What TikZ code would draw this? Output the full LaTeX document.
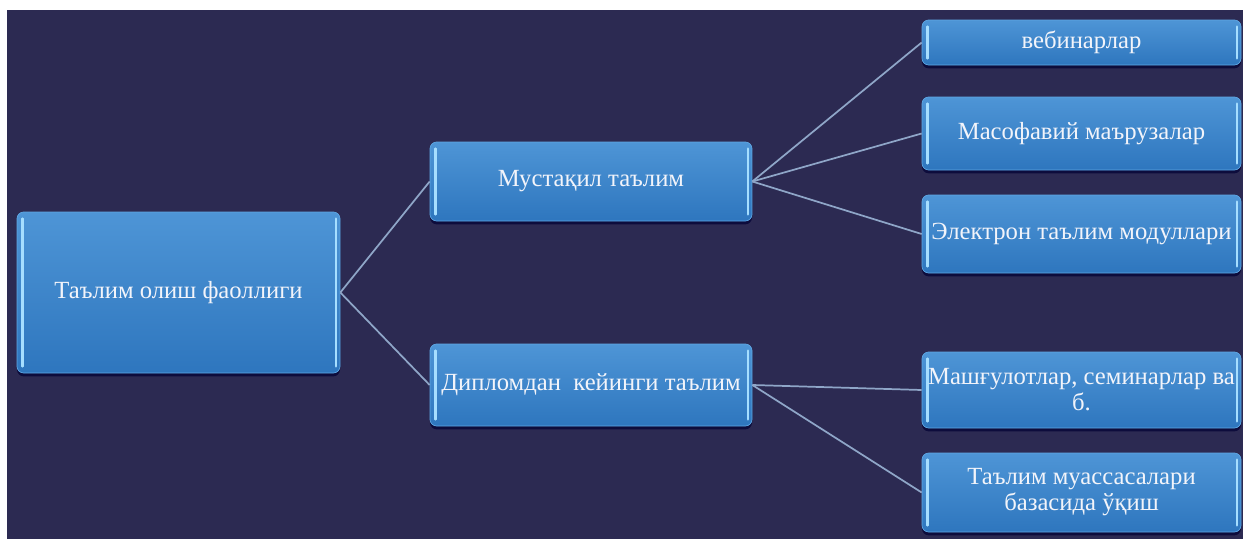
\documentclass[tikz,border=0pt]{standalone}
\usepackage{fontspec}
\setmainfont{Liberation Serif}
\usetikzlibrary{shadows}
\definecolor{bgdark}{HTML}{2C2A52}
\definecolor{boxtop}{HTML}{4E95D6}
\definecolor{boxbot}{HTML}{2E76BE}
\definecolor{boxedge}{HTML}{5FA8E4}
\definecolor{hilite}{HTML}{A6DEFF}
\definecolor{linkc}{HTML}{8FA6C8}
\definecolor{txtc}{HTML}{F2F4FA}
\tikzset{
  px/.style={x=0.75pt,y=-0.75pt},
  bluebox/.style={rectangle, rounded corners=5pt, top color=boxtop, bottom color=boxbot,
    draw=boxedge, line width=0.5pt, text=txtc, align=center, inner sep=1pt,
    font=\fontsize{18.5}{19.5}\selectfont,
    drop shadow={shadow xshift=0pt, shadow yshift=-2.5pt, opacity=0.7, fill=black!80!blue},
    path picture={
      \draw[hilite, line width=2pt, line cap=round]
        ([xshift=4pt,yshift=-5pt]path picture bounding box.north west) --
        ([xshift=4pt,yshift=5pt]path picture bounding box.south west);
      \draw[hilite, line width=2pt, line cap=round]
        ([xshift=-3pt,yshift=-5pt]path picture bounding box.north east) --
        ([xshift=-3pt,yshift=5pt]path picture bounding box.south east);
    }},
  link/.style={draw=linkc, line width=1.3pt}
}
\begin{document}
\begin{tikzpicture}[px]
\useasboundingbox (0,0) rectangle (1243,539);
\fill[white] (0,0) rectangle (1243,539);
\fill[bgdark] (7,10) rectangle (1243,539);
% level 0
\node[bluebox, minimum width=323*0.75pt, minimum height=161*0.75pt] (root) at (178.5,292.5) {Таълим олиш фаоллиги};
% level 1
\node[bluebox, minimum width=322*0.75pt, minimum height=79*0.75pt] (must) at (591,181.5) {Мустақил таълим};
\node[bluebox, minimum width=322*0.75pt, minimum height=82*0.75pt] (dipl) at (591,385) {Дипломдан\ \ кейинги таълим};
% level 2
\node[bluebox, minimum width=319*0.75pt, minimum height=45*0.75pt] (veb) at (1081.5,42.5) {вебинарлар};
\node[bluebox, minimum width=319*0.75pt, minimum height=73*0.75pt] (mas) at (1081.5,133.5) {Масофавий маърузалар};
\node[bluebox, minimum width=319*0.75pt, minimum height=78*0.75pt] (ele) at (1081.5,234) {Электрон таълим модуллари};
\node[bluebox, minimum width=319*0.75pt, minimum height=76*0.75pt] (mash) at (1081.5,390) {Машғулотлар,\ семинарлар\ ва\\ б.};
\node[bluebox, minimum width=319*0.75pt, minimum height=79*0.75pt] (tal) at (1081.5,492.5) {Таълим муассасалари\\ базасида ўқиш};
% connectors
\draw[link] (root.east) -- (must.west);
\draw[link] (root.east) -- (dipl.west);
\draw[link] (must.east) -- (veb.west);
\draw[link] (must.east) -- (mas.west);
\draw[link] (must.east) -- (ele.west);
\draw[link] (dipl.east) -- (mash.west);
\draw[link] (dipl.east) -- (tal.west);
\end{tikzpicture}
\end{document}
